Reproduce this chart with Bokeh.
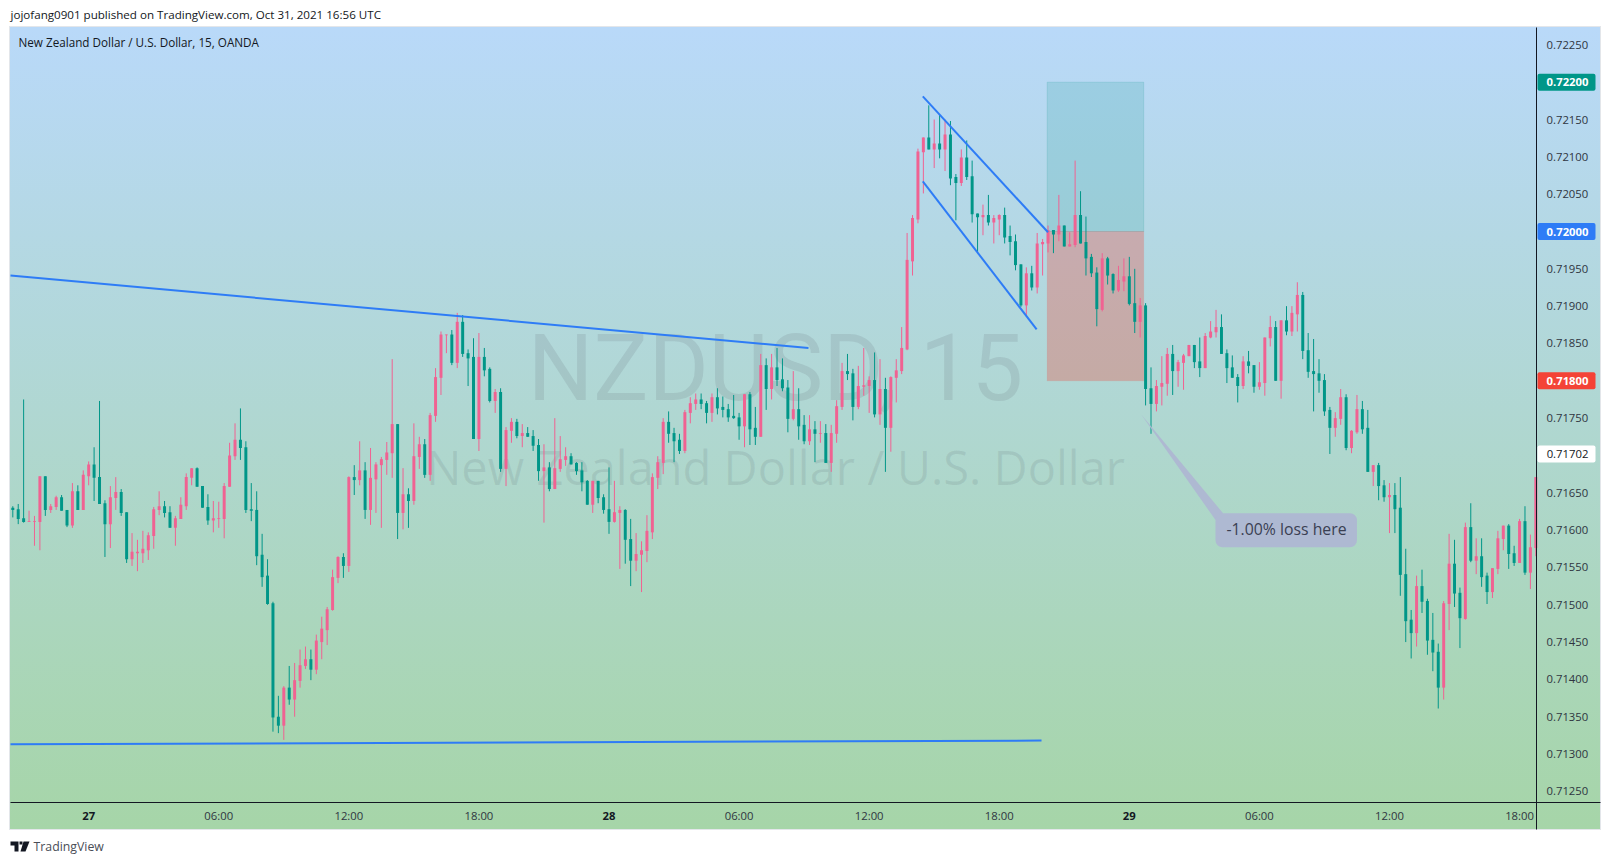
from bokeh.plotting import figure
from bokeh.embed import file_html
from bokeh.resources import INLINE
from bokeh.models import (ColumnDataSource, FixedTicker, NumeralTickFormatter, Label,
                          BoxAnnotation, PolyAnnotation)

# Prices in units of 0.00001 USD, 15-minute bars
HIGH = [
 71632,71635,71775,71626,71619,71672,71672,71635,71646,71647,
 71627,71663,71660,71680,71692,71711,71773,71640,71659,71671,
 71655,71624,71596,71587,71599,71597,71631,71652,71639,71632,
 71619,71644,71676,71683,71684,71659,71648,71639,71638,71663,
 71717,71743,71763,71719,71663,71652,71595,71561,71504,71378,
 71391,71418,71422,71440,71444,71440,71460,71484,71497,71547,
 71565,71569,71672,71687,71719,71691,71710,71691,71698,71718,
 71829,71742,71683,71656,71743,71725,71722,71757,71817,71866,
 71862,71868,71891,71888,71842,71857,71864,71844,71818,71789,
 71790,71738,71750,71749,71742,71738,71734,71722,71715,71691,
 71750,71726,71711,71703,71691,71691,71667,71666,71666,71648,
 71684,71666,71632,71628,71615,71596,71585,71620,71676,71699,
 71750,71759,71737,71729,71761,71778,71783,71783,71773,71783,
 71790,71779,71769,71781,71757,71782,71785,71765,71836,71830,
 71836,71844,71830,71801,71813,71790,71754,71754,71746,71746,
 71742,71741,71774,71824,71836,71816,71820,71844,71806,71838,
 71829,71804,71806,71829,71872,71998,72022,72111,72126,72169,
 72150,72156,72150,72148,72077,72110,72122,72095,72024,72036,
 72049,72022,72023,72032,72008,71996,71956,71952,71954,71998,
 71990,72008,72002,72049,72008,71999,72095,72054,72020,71970,
 71952,71971,71966,71944,71954,71964,71966,71950,71911,71904,
 71818,71801,71833,71844,71848,71828,71836,71848,71848,71858,
 71864,71880,71895,71889,71842,71834,71809,71833,71840,71821,
 71825,71858,71887,71880,71881,71900,71900,71932,71919,71864,
 71856,71829,71809,71765,71758,71789,71782,71734,71781,71773,
 71761,71687,71690,71667,71663,71663,71671,71575,71493,71539,
 71547,71508,71489,71448,71505,71595,71587,71523,71610,71636,
 71589,71589,71543,71549,71599,71606,71608,71579,71615,71632,
 71594,71671]
BODY_TOP = [
 71630,71628,71616,71612,71612,71672,71672,71632,71644,71644,
 71627,71652,71652,71674,71688,71688,71671,71636,71644,71651,
 71651,71624,71571,71571,71575,71593,71628,71632,71632,71624,
 71616,71634,71671,71683,71683,71659,71631,71616,71616,71659,
 71700,71721,71721,71711,71628,71627,71567,71539,71502,71350,
 71389,71389,71399,71419,71427,71427,71452,71468,71494,71537,
 71564,71564,71671,71671,71680,71680,71670,71688,71695,71704,
 71742,71742,71648,71648,71699,71715,71715,71754,71805,71862,
 71862,71862,71879,71879,71837,71832,71832,71832,71816,71785,
 71785,71734,71745,71745,71730,71730,71726,71714,71684,71684,
 71683,71695,71699,71699,71690,71680,71666,71666,71666,71644,
 71628,71624,71627,71627,71588,71568,71573,71599,71671,71691,
 71745,71745,71730,71721,71758,71770,71775,71775,71770,71778,
 71778,71765,71762,71753,71751,71782,71782,71737,71821,71821,
 71818,71818,71802,71791,71762,71762,71741,71735,71735,71730,
 71730,71730,71766,71813,71813,71810,71793,71794,71801,71801,
 71789,71789,71805,71814,71844,71962,72018,72107,72126,72126,
 72118,72118,72130,72130,72073,72099,72099,72074,72024,72022,
 72022,72018,72022,72022,71994,71987,71956,71944,71944,71984,
 71986,72002,72002,72008,72008,71983,72022,72022,71986,71966,
 71945,71964,71964,71943,71935,71940,71940,71904,71901,71901,
 71790,71793,71797,71836,71836,71825,71834,71848,71848,71826,
 71860,71866,71872,71872,71837,71818,71805,71826,71826,71821,
 71798,71858,71872,71872,71881,71881,71891,71915,71915,71841,
 71813,71810,71801,71761,71750,71778,71778,71733,71762,71762,
 71737,71687,71687,71660,71647,71647,71630,71541,71480,71525,
 71525,71505,71453,71437,71502,71555,71555,71516,71604,71604,
 71565,71565,71539,71549,71589,71606,71606,71569,71612,71612,
 71577,71671]
BODY_BOTTOM = [
 71627,71615,71611,71611,71611,71611,71627,71627,71631,71626,
 71606,71606,71627,71627,71672,71670,71635,71608,71608,71643,
 71623,71561,71561,71569,71569,71573,71592,71627,71623,71603,
 71603,71615,71632,71670,71658,71630,71613,71613,71615,71615,
 71658,71699,71710,71627,71626,71565,71537,71501,71349,71338,
 71338,71373,71373,71398,71418,71413,71413,71450,71466,71493,
 71536,71552,71552,71667,71667,71627,71627,71668,71687,71694,
 71703,71623,71623,71639,71639,71698,71674,71674,71753,71804,
 71861,71824,71824,71836,71830,71722,71722,71814,71773,71773,
 71682,71682,71733,71726,71726,71725,71713,71679,71679,71655,
 71655,71682,71694,71688,71679,71664,71634,71634,71643,71627,
 71611,71611,71623,71587,71559,71559,71567,71572,71597,71670,
 71690,71729,71719,71706,71706,71757,71769,71769,71757,71757,
 71763,71761,71751,71750,71739,71739,71735,71725,71725,71789,
 71789,71801,71790,71749,71749,71739,71719,71719,71729,71729,
 71690,71690,71729,71765,71809,71765,71765,71792,71793,71755,
 71755,71737,71737,71804,71813,71842,71960,72016,72106,72110,
 72110,72110,72110,72071,72065,72065,72073,72023,72019,72019,
 72012,72012,72016,71992,71986,71955,71901,71901,71925,71925,
 71983,71984,71996,71996,71980,71980,71982,71984,71964,71944,
 71896,71895,71941,71921,71921,71933,71903,71879,71879,71789,
 71769,71769,71792,71796,71813,71813,71824,71833,71825,71817,
 71817,71858,71865,71836,71817,71804,71793,71793,71820,71792,
 71792,71797,71857,71800,71800,71866,71866,71889,71840,71812,
 71809,71800,71759,71737,71737,71749,71710,71710,71731,71735,
 71678,71678,71659,71644,71644,71628,71540,71478,71462,71462,
 71504,71452,71436,71389,71389,71501,71515,71482,71481,71559,
 71559,71537,71517,71517,71548,71588,71568,71556,71556,71543,
 71543,71576]
LOW = [
 71617,71608,71610,71611,71579,71573,71619,71623,71627,71626,
 71604,71603,71627,71627,71660,71639,71635,71564,71576,71627,
 71619,71556,71552,71545,71556,71560,71575,71620,71617,71603,
 71579,71615,71627,71660,71658,71630,71607,71597,71603,71589,
 71658,71694,71694,71623,71612,71553,71524,71500,71330,71328,
 71319,71366,71350,71389,71414,71399,71407,71427,71446,71492,
 71529,71536,71544,71647,71660,71615,71607,71623,71603,71674,
 71670,71588,71601,71603,71634,71682,71670,71666,71745,71781,
 71837,71821,71817,71832,71793,71722,71706,71806,71771,71757,
 71678,71659,71717,71723,71711,71725,71706,71666,71610,71652,
 71655,71678,71686,71688,71674,71652,71634,71623,71636,71622,
 71595,71610,71548,71555,71525,71545,71517,71557,71588,71655,
 71675,71717,71691,71702,71703,71743,71761,71762,71743,71745,
 71755,71751,71745,71749,71721,71711,71714,71714,71725,71761,
 71775,71793,71786,71731,71747,71721,71715,71714,71691,71717,
 71690,71678,71717,71761,71801,71747,71762,71780,71757,71751,
 71741,71678,71705,71771,71809,71841,71941,72011,72051,72110,
 72085,72098,72081,72062,72015,72061,72069,72012,71972,71995,
 72008,71984,71995,71984,71968,71948,71899,71887,71921,71917,
 71941,71972,71971,71987,71980,71980,71979,71984,71941,71939,
 71873,71893,71929,71917,71919,71920,71901,71864,71858,71767,
 71729,71759,71767,71780,71781,71792,71788,71833,71817,71805,
 71817,71857,71858,71836,71797,71804,71771,71789,71810,71784,
 71788,71780,71846,71800,71776,71861,71860,71866,71829,71804,
 71759,71784,71753,71702,71725,71741,71707,71703,71729,71729,
 71678,71659,71640,71638,71596,71596,71512,71450,71428,71444,
 71489,71433,71411,71361,71373,71466,71497,71442,71480,71557,
 71541,71524,71501,71509,71541,71573,71548,71552,71556,71540,
 71521,71565]
# P = bar drawn pink (price rose), G = bar drawn teal (price fell)
DIRECTION = ("GGGPPPGPPG" "GPGPPGGGPP" "GGPPPPPPGG" "PPPPGGGPPP" "PPGGGGGGGG"
             "PGPPPGPPPP" "PGPGPGPPPP" "PGPGPPGPPP" "PGPGGGPGGP" "GPPGPGGGPG"
             "PPPGGGGPGG" "GPPGGPPPPP" "PGGGPPPGGP" "GGGGGPGGPG" "PGGGPGGPGP"
             "GPPPGGPPPG" "PGPPPPPPPG" "PGPGGPGGGP" "GPPGGGGPGP" "PPGPGPPGGG"
             "GPGGPPGGPG" "GPPPGPPPGG" "PPPGGGGPGG" "PPPGPGPPGG" "GGGGPPGPPG"
             "GPGGPGGGGP" "GGGGPPGGPG" "PGGPPPGGPG" "PP")

PRICE_TICKS = [0.7125, 0.7130, 0.7135, 0.7140, 0.7145, 0.7150, 0.7155, 0.7160, 0.7165,
               0.7175, 0.7185, 0.7190, 0.7195, 0.7205, 0.7210, 0.7215, 0.7225]
TIME_TICKS = [38, 62, 86, 134, 158, 182, 230, 254, 278]
TIME_LABELS = ["06:00", "12:00", "18:00", "06:00", "12:00", "18:00", "06:00", "12:00", "18:00"]
DAY_TICKS = [14, 110, 206]
DAY_LABELS = ["27", "28", "29"]
PRICE_TAGS = [(0.72200, "0.72200", "#009688", "#ffffff"),
              (0.72000, "0.72000", "#2e7cf6", "#ffffff"),
              (0.71800, "0.71800", "#f44336", "#ffffff"),
              (0.71702, "0.71702", "#ffffff", "#131722")]
TREND_LINES = [([-0.424, 146.8], [0.71941, 0.71844]),
               ([-0.424, 189.8], [0.71313, 0.71318]),
               ([167.9, 191.0], [0.72181, 0.71999]),
               ([167.9, 188.9], [0.72067, 0.71869])]

TEAL, PINK, BLUE = "#009688", "#f06292", "#2e7cf6"


def dx(px):
    return (px - 12.3) / 5.42


def dy(py):
    return (72000 - (py - 231.0) / 0.7465) / 1e5


def page_label(x, y, text, **kw):
    p.add_layout(Label(x=dx(x), y=dy(y), text=text, **kw))


n = len(HIGH)
is_up = [d == "P" for d in DIRECTION]
src = ColumnDataSource(dict(
    x=list(range(n)),
    high=[v / 1e5 for v in HIGH],
    low=[v / 1e5 for v in LOW],
    open=[(b if u else t) / 1e5 for t, b, u in zip(BODY_TOP, BODY_BOTTOM, is_up)],
    close=[(t if u else b) / 1e5 for t, b, u in zip(BODY_TOP, BODY_BOTTOM, is_up)],
    color=[PINK if u else TEAL for u in is_up],
))

# the frame fills the figure, so that scale tags and the page's texts are not clipped
p = figure(width=1602, height=857, output_backend="svg", toolbar_location=None,
           x_range=(dx(0), dx(1602)), y_range=(dy(857), dy(0)),
           min_border_left=0, min_border_right=0, min_border_top=0, min_border_bottom=0,
           y_axis_location="right", tools="")
p.grid.visible = False
p.outline_line_color = None
p.background_fill_color = None
p.border_fill_color = None
p.stylesheets = [""":host {
  background-image: linear-gradient(#b9d9f9, #a6d5a8), linear-gradient(#e3e6ea, #e3e6ea);
  background-size: 1590px 802px, 1592px 804px;
  background-position: 10px 27px, 9px 26px;
  background-repeat: no-repeat;
}"""]

AXIS = "#131722"
TXT = "#2f3541"
xa = p.xaxis[0]
xa.fixed_location = dy(801.5)
xa.bounds = (dx(10), dx(1600))
xa.ticker = FixedTicker(ticks=TIME_TICKS)
xa.major_label_overrides = dict(zip(TIME_TICKS, TIME_LABELS))
xa.major_tick_line_color = None
xa.minor_tick_line_color = None
xa.axis_line_color = AXIS
xa.major_label_text_font = "Open Sans"
xa.major_label_text_font_size = "11.3px"
xa.major_label_text_color = TXT
xa.major_label_standoff = 0
ya = p.yaxis[0]
ya.fixed_location = dx(1536)
ya.bounds = (dy(829), dy(27))
ya.ticker = FixedTicker(ticks=PRICE_TICKS)
ya.formatter = NumeralTickFormatter(format="0.00000")
ya.major_tick_line_color = None
ya.minor_tick_line_color = None
ya.axis_line_color = AXIS
ya.major_label_text_font = "Open Sans"
ya.major_label_text_font_size = "11.3px"
ya.major_label_text_color = TXT
ya.major_label_standoff = 4

# watermark, under everything
GHOST = "#4a5060"
page_label(775, 368, "NZDUSD, 15", text_align="center", text_baseline="alphabetic",
           text_font="Roboto", text_font_size="92px", text_color=GHOST, text_alpha=0.13,
           level="underlay")
page_label(775, 466, "New Zealand Dollar / U.S. Dollar", text_align="center",
           text_baseline="alphabetic", text_font="Open Sans", text_font_size="47px",
           text_color=GHOST, text_alpha=0.12, level="underlay")

# position tool
p.quad(left=[190.85], right=[208.65], top=[0.72200], bottom=[0.72000], fill_color=TEAL, fill_alpha=0.15,
       line_color=TEAL, line_alpha=0.15)
p.quad(left=[190.85], right=[208.65], top=[0.72000], bottom=[0.71800], fill_color="#f44336", fill_alpha=0.3,
       line_color="#f44336", line_alpha=0.1)

# candles
p.segment("x", "high", "x", "low", source=src, line_color="color", line_width=1)
p.vbar(x="x", top="open", bottom="close", width=0.55, source=src, fill_color="color", line_color=None)

for xs, ys in TREND_LINES:
    p.line(xs, ys, line_color=BLUE, line_width=2)

# callout
CALLOUT = "#aeb9d2"
p.patch([208.2, 221.9, 223.3], [0.71755, 0.716135, 0.716225], fill_color=CALLOUT, line_color=None)
p.add_layout(BoxAnnotation(left=221.9, right=248.0, top=0.716225, bottom=0.71577, fill_color=CALLOUT,
                           fill_alpha=1, line_color=None, border_radius=7))
page_label(1286, 528, "-1.00% loss here", text_align="center", text_baseline="middle",
           text_font="Open Sans", text_font_size="15.8px", text_color="#3a3f52")

# bold day labels on the time scale
for t, s in zip(DAY_TICKS, DAY_LABELS):
    p.add_layout(Label(x=t, y=dy(815), text=s, text_align="center", text_baseline="middle",
                       text_font="Open Sans", text_font_size="11.3px", text_font_style="bold",
                       text_color=AXIS))

# price tags
for price, s, bg, fg in PRICE_TAGS:
    half = 8.5 / 74650
    p.add_layout(BoxAnnotation(left=dx(1537), right=dx(1595), top=price + half, bottom=price - half,
                               fill_color=bg, fill_alpha=1, line_color=None, border_radius=2))
    p.add_layout(Label(x=dx(1567), y=price, text=s, text_align="center", text_baseline="middle",
                       text_font="Open Sans", text_font_size="11.3px", text_color=fg,
                       text_font_style="bold" if fg == "#ffffff" else "normal"))

# header and footer texts
page_label(10, 13.5, "jojofang0901 published on TradingView.com, Oct 31, 2021 16:56 UTC",
           text_baseline="middle", text_font="Open Sans", text_font_size="11.6px", text_color=AXIS)
page_label(18, 41, "New Zealand Dollar / U.S. Dollar, 15, OANDA",
           text_baseline="middle", text_font="Open Sans", text_font_size="11.7px", text_color=AXIS)
page_label(33, 846, "TradingView", text_baseline="middle", text_font="Open Sans",
           text_font_size="12.3px", text_color="#4a4e57")

# TradingView mark
LOGO_PARTS = [[(10, 841), (18, 841), (18, 851), (14, 851), (14, 845), (10, 845)],
              [(19, 841), (22, 841), (22, 844), (19, 844)],
              [(23, 841), (29, 841), (25, 851), (20, 851)]]
for part in LOGO_PARTS:
    p.add_layout(PolyAnnotation(xs=[dx(a) for a, b in part], ys=[dy(b) for a, b in part],
                                fill_color=AXIS, fill_alpha=1, line_color=None))

open("out.html", "w").write(file_html(p, INLINE))
